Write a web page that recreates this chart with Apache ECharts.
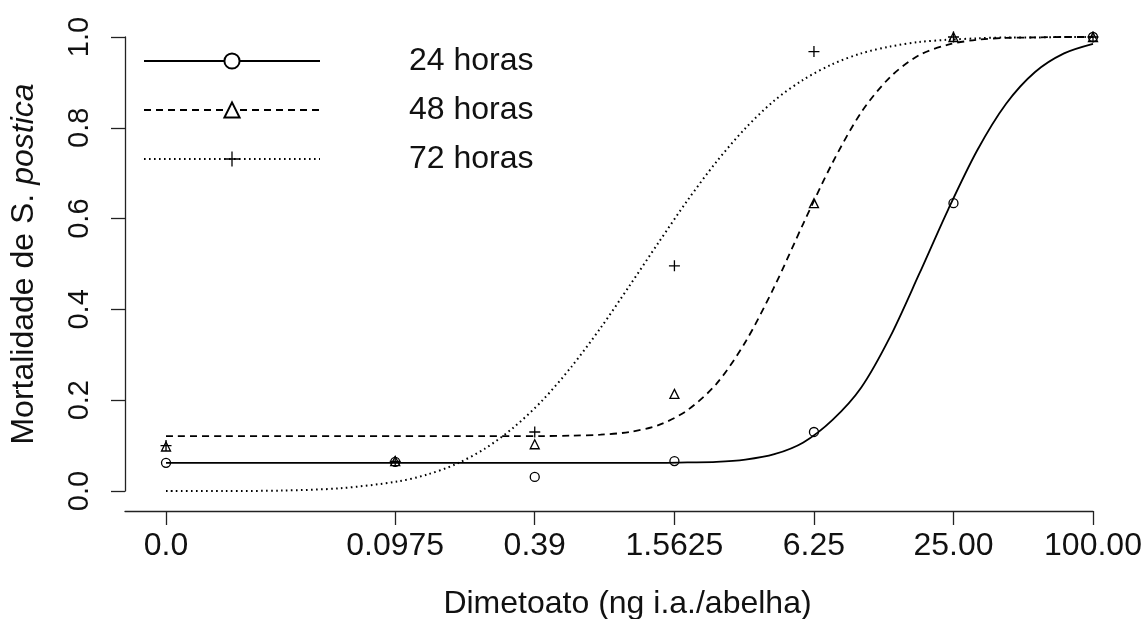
<!DOCTYPE html>
<html><head><meta charset="utf-8">
<script src="https://cdn.jsdelivr.net/npm/echarts@6/dist/echarts.min.js"></script>
<style>html,body{margin:0;padding:0;background:#fff}#c{width:1148px;height:619px}</style>
</head><body><div id="c"></div>
<script>
// ---- data ----
const doseLabels = ["0.0", "0.0975", "0.39", "1.5625", "6.25", "25.00", "100.00"];
const doses = [0, 0.0975, 0.39, 1.5625, 6.25, 25, 100];
const zeroDosePlotAt = 0.01; // control (0.0) is drawn where dose 0.01 would be on the log scale
const seriesNames = ["24 horas", "48 horas", "72 horas"];
const mort24 = [0.062, 0.064, 0.031, 0.066, 0.130, 0.634, 1.0];
const mort48 = [0.098, 0.066, 0.103, 0.214, 0.634, 1.0, 1.0];
const mort72 = [0.100, 0.065, 0.130, 0.496, 0.968, 1.0, 1.0];
// fitted curves at these log10(dose) positions
const curveLog10Dose = [-2, -1.75, -1.5, -1.25, -1, -0.875, -0.75, -0.625, -0.5, -0.375, -0.25, -0.125, 0, 0.125, 0.25, 0.375, 0.5, 0.625, 0.75, 0.875, 1, 1.125, 1.25, 1.375, 1.5, 1.625, 1.75, 1.875, 2];
const fit24 = [0.062, 0.062, 0.062, 0.062, 0.062, 0.062, 0.062, 0.062, 0.062, 0.062, 0.062, 0.062, 0.062, 0.062, 0.063, 0.064, 0.069, 0.081, 0.107, 0.156, 0.228, 0.340, 0.478, 0.620, 0.750, 0.853, 0.923, 0.964, 0.985];
const fit48 = [0.121, 0.121, 0.121, 0.121, 0.121, 0.121, 0.121, 0.121, 0.121, 0.121, 0.122, 0.124, 0.130, 0.145, 0.178, 0.236, 0.328, 0.450, 0.589, 0.722, 0.834, 0.912, 0.960, 0.983, 0.994, 0.998, 0.999, 1.0, 1.0];
const fit72 = [0.000, 0.000, 0.001, 0.006, 0.021, 0.036, 0.059, 0.093, 0.140, 0.200, 0.274, 0.359, 0.452, 0.547, 0.640, 0.725, 0.799, 0.860, 0.906, 0.940, 0.964, 0.979, 0.989, 0.994, 0.997, 0.999, 0.999, 1.0, 1.0];
const yTicks = [0, 0.2, 0.4, 0.6, 0.8, 1.0];

// ---- chart ----
const FONT = "'Liberation Sans', Arial, Helvetica, sans-serif";
const INK = '#111';
const toX = d => Math.log10(d === 0 ? zeroDosePlotAt : d);
const tickPos = doses.map(toX);
function labelFor(v) {
  let best = 0;
  tickPos.forEach((p, i) => { if (Math.abs(p - v) < Math.abs(tickPos[best] - v)) best = i; });
  return doseLabels[best];
}
const pts = arr => doses.map((d, i) => [toX(d), arr[i]]);
const curve = arr => curveLog10Dose.map((l, i) => [l, arr[i]]);
const plusPath = 'path://M0,5L10,5M5,0L5,10';
const symbols = ['emptyCircle', 'emptyTriangle', plusPath];
const pointSymbols = ['circle', 'triangle', plusPath];
const pointSizes = [9, 9, 11];
const dashTypes = ['solid', [7, 5], [1.6, 3.4]];
const lineWidths = [1.8, 1.8, 2];
const fits = [fit24, fit48, fit72];
const morts = [mort24, mort48, mort72];

const series = [];
seriesNames.forEach((n, k) => {
  series.push({
    name: n, type: 'line', data: curve(fits[k]), showSymbol: false, symbol: symbols[k],
    smooth: 0.3, silent: true, z: 2,
    lineStyle: { color: '#000', width: lineWidths[k], type: dashTypes[k], cap: 'butt' },
    itemStyle: { color: '#000' }
  });
});
seriesNames.forEach((n, k) => {
  series.push({
    name: n + ' (obs)', type: 'scatter', data: pts(morts[k]), symbol: pointSymbols[k],
    symbolSize: pointSizes[k], silent: true, z: 3,
    itemStyle: { color: 'rgba(0,0,0,0)', borderColor: '#000', borderWidth: 1.3, opacity: 1 }
  });
});

const chart = echarts.init(document.getElementById('c'), null, { renderer: 'canvas' });
chart.setOption({
  animation: false,
  backgroundColor: '#fff',
  grid: { left: 125, top: 37, width: 968, height: 454, containLabel: false, outerBoundsMode: 'none' },
  xAxis: {
    type: 'value', min: -2.177, max: 2, offset: 20,
    name: 'Dimetoato (ng i.a./abelha)', nameLocation: 'middle', nameGap: 77,
    nameTextStyle: { fontFamily: FONT, fontSize: 32, color: INK, padding: [0, 0, 0, 37] },
    axisLine: { show: true, onZero: false, lineStyle: { color: '#222', width: 1.3 } },
    axisTick: { show: true, customValues: tickPos, length: 14, inside: false, lineStyle: { color: '#222', width: 1.3 } },
    axisLabel: { customValues: tickPos, formatter: labelFor, fontFamily: FONT, fontSize: 32, color: INK, margin: 19 },
    splitLine: { show: false }
  },
  yAxis: {
    type: 'value', min: 0, max: 1, interval: 0.2,
    name: '{n|Mortalidade de S. }{i|postica}', nameLocation: 'middle', nameGap: 85, nameRotate: 90,
    nameTextStyle: {
      fontFamily: FONT, fontSize: 32, color: INK, lineHeight: 32,
      rich: {
        n: { fontFamily: FONT, fontSize: 32, color: INK, lineHeight: 32 },
        i: { fontFamily: FONT, fontSize: 32, color: INK, fontStyle: 'italic', lineHeight: 32 }
      }
    },
    axisLine: { show: true, onZero: false, lineStyle: { color: '#222', width: 1.3 } },
    axisTick: { show: true, customValues: yTicks, length: 14, lineStyle: { color: '#222', width: 1.3 } },
    axisLabel: { customValues: yTicks, rotate: 90, margin: 31, fontFamily: FONT, fontSize: 29, color: INK, formatter: v => v.toFixed(1) },
    splitLine: { show: false }
  },
  legend: {
    orient: 'vertical', left: 143, top: 45, padding: 0,
    itemWidth: 176, itemHeight: 19, itemGap: 17, selectedMode: false,
    data: seriesNames,
    itemStyle: { color: '#000', borderColor: '#000', borderWidth: 1.3 },
    textStyle: { fontFamily: FONT, fontSize: 32, color: INK, lineHeight: 32, padding: [0, 0, 0, 84] }
  },
  series: series
});
</script>
</body></html>
